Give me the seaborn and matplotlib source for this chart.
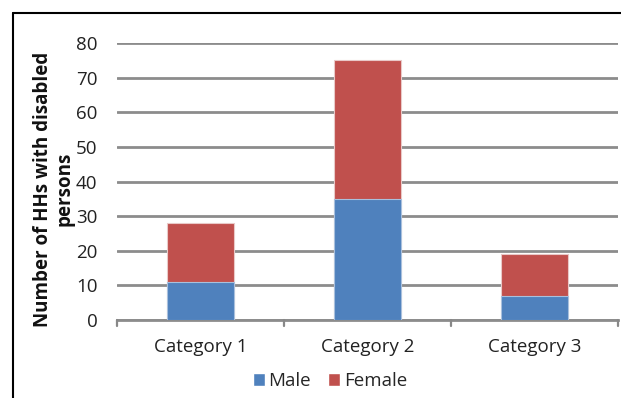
import matplotlib
matplotlib.use("Agg")
import matplotlib.pyplot as plt
from matplotlib.lines import Line2D
from matplotlib.patches import Patch
import seaborn as sns
import pandas as pd
import numpy as np

categories = ["Category 1", "Category 2", "Category 3"]
male = [11, 35, 7]
female = [17, 40, 12]
yticks = [0, 10, 20, 30, 40, 50, 60, 70, 80]

male_color = "#4F81BD"
female_color = "#C0504D"

sns.set_theme(style="white")
plt.rcParams["font.family"] = ["Open Sans", "DejaVu Sans"]

df = pd.DataFrame({
    "category": categories,
    "Male": male,
    "Female": female,
})
df["total"] = df["Male"] + df["Female"]

fig = plt.figure(figsize=(6.21, 3.98), dpi=100)
ax = fig.add_axes([117 / 621, 1 - 320 / 398, (618 - 117) / 621, (320 - 43) / 398])

# stacked: full height in female colour, male segment drawn over it
sns.barplot(data=df, x="category", y="total", color=female_color, saturation=1,
            width=0.4, ax=ax, edgecolor="#e9c9c8", linewidth=0.8, zorder=3)
sns.barplot(data=df, x="category", y="Male", color=male_color, saturation=1,
            width=0.4, ax=ax, edgecolor="#a9c0dd", linewidth=0.8, zorder=4)

ax.set_ylim(0, 80)
ax.set_xlim(-0.5, 2.5)
ax.set_yticks(yticks)
ax.set_yticklabels([str(t) for t in yticks], fontsize=13.5, color="#222222")
ax.tick_params(axis="y", length=0, pad=14)
ax.set_xticks([0, 1, 2])
ax.set_xticklabels(categories, fontsize=13.5, color="#222222")
ax.tick_params(axis="x", length=0, pad=13)

# category boundary ticks
for xb in [-0.5, 0.5, 1.5, 2.5]:
    ax.plot([xb, xb], [0, -1.6], color="#888888", lw=1.6, clip_on=False, zorder=5)

ax.grid(axis="y", color="#8c8c8c", linewidth=2, zorder=0)
ax.set_axisbelow(True)
for s in ["top", "right", "left"]:
    ax.spines[s].set_visible(False)
ax.spines["bottom"].set_color("#8c8c8c")
ax.spines["bottom"].set_linewidth(2)

ax.set_xlabel("")
ax.set_ylabel("")
fig.text(54 / 621, 1 - 189 / 398, "Number of HHs with disabled\npersons", rotation=90,
         fontsize=13.5, fontweight="bold", color="#111111", ha="center", va="center",
         multialignment="center", linespacing=1.1)

handles = [Patch(facecolor=male_color, label="Male"),
           Patch(facecolor=female_color, label="Female")]
fig.legend(handles=handles, loc="center", bbox_to_anchor=(330 / 621, 1 - 381 / 398),
           ncol=2, frameon=False, fontsize=13.5, handlelength=0.65, handleheight=0.65,
           handletextpad=0.2, columnspacing=0.9)

# outer frame (left and top edges)
fig.add_artist(Line2D([13 / 621, 13 / 621], [0, 1 - 13 / 398], color="black", lw=1.5,
                      transform=fig.transFigure))
fig.add_artist(Line2D([13 / 621, 1], [1 - 13 / 398, 1 - 13 / 398], color="black", lw=1.5,
                      transform=fig.transFigure))

fig.savefig("out.png", dpi=100)
